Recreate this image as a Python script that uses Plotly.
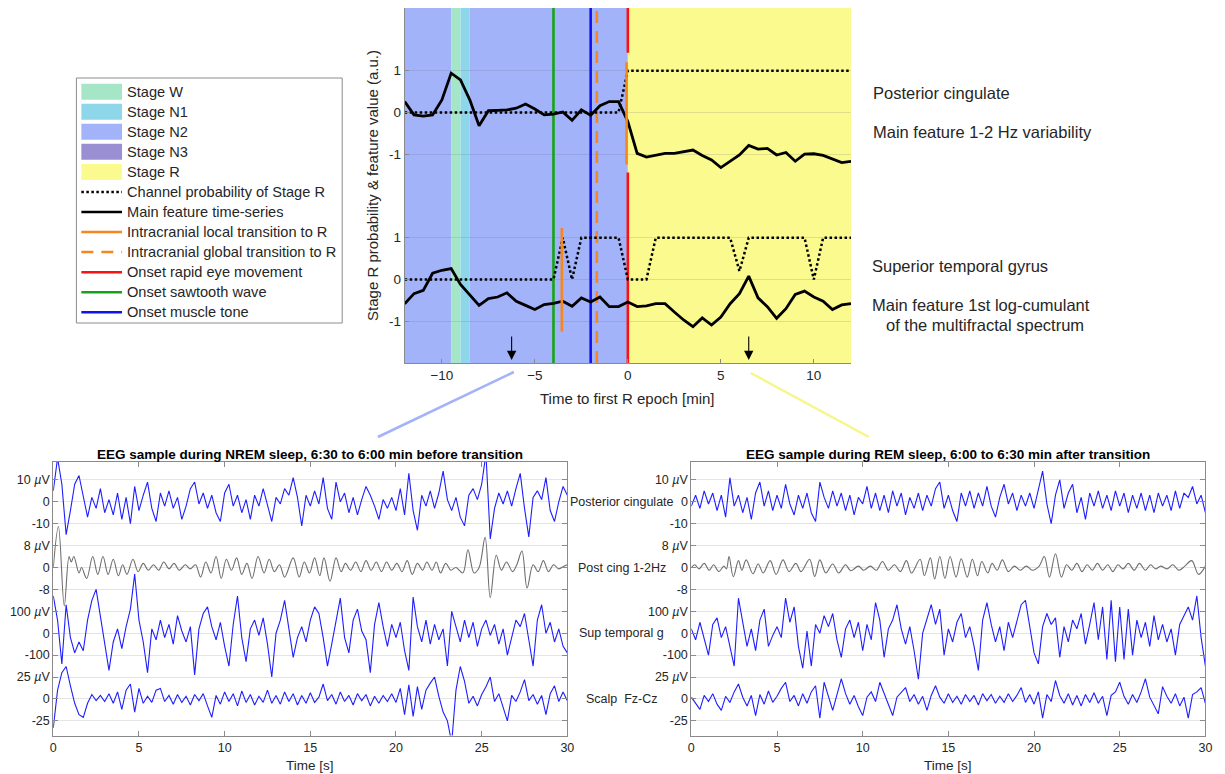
import numpy as np
import plotly.graph_objects as go

W, H = 1225, 774
def px(x): return x / W
def py(y): return 1 - y / H

FONT = "Liberation Sans, Arial, sans-serif"
TXT = "#262626"

# ---------------- top panel data ----------------
epoch_min = np.arange(-12, 12.25, 0.5)          # 30-s epochs, minutes to first R epoch

pc_feature = [0.26, -0.06, -0.09, -0.06, 0.30, 0.94, 0.78, 0.30, -0.32, 0.04,
              0.05, 0.06, 0.10, 0.20, 0.08, -0.06, -0.04, 0.01, -0.19, 0.06,
              -0.07, 0.16, 0.26, 0.26, -0.22, -0.98, -1.07, -1.02, -0.98, -0.98,
              -0.94, -0.90, -1.03, -1.14, -1.32, -1.16, -1.02, -0.79, -0.88, -0.86,
              -1.02, -0.96, -1.17, -1.00, -0.99, -1.03, -1.11, -1.20, -1.17]
pc_prob = [0] * 24 + [1] * 25

stg_feature = [-0.58, -0.34, -0.26, 0.15, 0.22, 0.26, -0.12, -0.36, -0.62, -0.46,
               -0.42, -0.32, -0.52, -0.62, -0.72, -0.60, -0.57, -0.52, -0.64, -0.44,
               -0.54, -0.42, -0.65, -0.65, -0.54, -0.65, -0.63, -0.58, -0.58, -0.78,
               -0.97, -1.13, -0.92, -1.09, -0.90, -0.58, -0.34, 0.08, -0.44, -0.65,
               -0.93, -0.70, -0.36, -0.28, -0.42, -0.52, -0.72, -0.61, -0.58]
stg_prob = ([0] * 17 + [1, 0] + [1] * 5 + [0] * 3 + [1] * 9 + [0.2] + [1] * 7 + [0] + [1] * 4)

channel_offsets_top = {"pc": 4, "stg": 0}

# hypnogram segments (minutes)
seg_start = [-12, -9.5, -9.0, -8.5, 0]
seg_end = [-9.5, -9.0, -8.5, 0, 12]
seg_stage = ["Stage N2", "Stage W", "Stage N1", "Stage N2", "Stage R"]
stage_names = ["Stage W", "Stage N1", "Stage N2", "Stage N3", "Stage R"]
stage_colors = ["#a6e6c8", "#8ed6ea", "#a2b3f9", "#9a8fd2", "#fafa8e"]

# events (minutes)
onset_rem = 0.0
onset_sawtooth = -4.0
onset_muscle = -2.0
global_transition = -1.67
local_transition_pc = -0.07
local_transition_stg = -3.55
sample_arrows = [-6.25, 6.5]

# ---------------- EEG samples (µV) ----------------
nrem_pc = [5, 20, 8, -15, -4, 8, 12, 3, -7, 2, -3, 6, -5, 1, -6, 4, -8, 2, -10, 7,
           -4, 3, 9, -3, -9, 4, -2, 5, -3, 2, -8, -2, 6, 9, -1, 4, -3, 3, -5, -9,
           4, 8, -2, 3, -5, 1, -8, 3, -2, 6, -1, -9, 2, -1, 6, 3, 11, 2, -11, 3,
           -2, 5, -1, 11, -3, -8, 9, 0, 4, -5, 2, -6, 1, 7, 3, -2, -8, 1, -3, 2,
           -4, 6, -6, 13, -4, -13, 3, -2, 5, -3, 4, 14, 1, -4, 2, -7, -11, 3, 6, 1,
           8, 22, -17, -3, 4, -1, 5, -2, 6, 13, -3, -16, 2, 5, 1, 11, -4, -9, 0, 7, 3]
nrem_pc_12hz = [(0, 0), (0.3, 15), (0.64, -14), (0.92, 4), (1.05, 2), (1.2, 4), (1.5, -2), (1.65, 0),
                (1.95, -4), (2.3, 4), (2.6, -2.5), (2.9, 4), (3.2, -2.5), (3.5, 3), (3.8, -3), (4.05, 1),
                (4.3, -2.5), (4.65, 3), (4.95, -1.5), (5.25, 1.5), (5.55, -1), (5.85, 1), (6.15, -1),
                (6.45, 2), (6.75, -0.5), (7.05, 1.5), (7.35, -1), (7.7, 1), (8.0, -0.5), (8.3, 1),
                (8.6, -3.5), (8.9, 2), (9.2, -2), (9.5, 4), (9.8, -4), (10.1, 3), (10.4, -1), (10.7, 3.5),
                (11.0, -2.5), (11.3, 1.5), (11.6, -4), (11.95, 4), (12.3, -2), (12.6, 3), (12.9, -1.5),
                (13.2, 1), (13.5, -3.5), (14.0, 3.5), (14.35, -3.5), (14.65, 2), (14.95, -2), (15.25, 3.5),
                (15.55, -3), (15.8, 3.5), (16.15, -5), (16.5, 3.5), (16.8, -1.5), (17.05, 1.5), (17.35, -1),
                (17.65, 2), (17.95, -1.5), (18.25, 2.5), (18.55, -1), (18.85, 2), (19.15, -1.5), (19.45, 2),
                (19.75, -1), (20.05, 1.5), (20.35, -1.5), (20.65, 2.5), (20.95, -2.5), (21.25, 1.5),
                (21.55, -1), (21.8, 2), (22.1, -1), (22.35, 2), (22.6, -2), (22.9, 1.5), (23.2, -1),
                (23.5, 0), (23.9, -2), (24.2, 6.5), (24.55, -2), (24.85, 0), (25.2, 11), (25.5, -11),
                (25.85, 4.5), (26.15, -1), (26.45, 2), (26.8, -1.5), (27.05, 1), (27.35, 6), (27.65, -7.5),
                (28.0, 1), (28.3, -1.5), (28.6, 2.5), (28.9, -1.5), (29.2, 1), (29.5, -0.5), (29.8, 0.5), (30.0, 1)]
nrem_stg = [170, 60, -140, 130, -20, -90, -40, -80, 60, 150, 200, 80, -60, -170, -40, 20, -70, 30, 110, 270,
            60, -40, -180, 20, -30, 60, -20, 40, -50, 80, 10, -40, 30, -190, 20, 90, 120, 30, -30, 50,
            -60, -150, 40, 170, -20, -130, 20, 60, -10, 70, -50, -200, 0, 60, 150, 20, -110, -20, 30, -40,
            60, 120, 90, -20, -150, -50, 60, 160, -20, -90, 60, 110, 10, -30, -180, 40, 140, 30, -60, 40,
            -20, 50, -80, -170, 165, 30, -40, 60, -50, 40, -30, 20, -150, 100, 30, -40, 60, -20, 50, -60,
            20, 60, -10, 40, -50, 20, -100, -20, 60, 30, 90, -30, -150, 60, 130, 0, 50, -40, 20, -60, -90]
nrem_scalp = [-33, 10, 30, 37, 15, -5, -18, -21, -5, 5, -2, 4, -3, 6, -5, 8, -12, 10, 17, -15,
              12, -5, 3, -4, 10, 12, -3, 4, -6, 5, -4, 3, -7, 5, -2, 6, -8, -21, 4, -6,
              8, -3, 6, -8, 9, -4, 5, -7, 3, -4, 10, -5, 4, -6, 8, -3, 6, -7, 4, -5,
              7, -4, 2, 17, -2, 5, -6, 8, -3, 4, -7, 6, -2, 5, -8, 3, -5, 4, -3, 6,
              -4, 12, -18, 16, -20, 14, -12, 10, 18, 25, 3, -15, -25, -50, 10, 37, 20, -5, 3, -8,
              5, 14, 25, -3, 6, -10, -25, 4, -3, 8, 22, -2, 5, -6, 4, -18, 6, 15, -3, 8, -2]

rem_pc = [-2, 3, -3, 5, -1, 4, -4, 3, -7, 11, -2, 3, -5, 2, -8, 4, 9, -2, 5, -4,
          3, -3, 8, -1, -6, 3, -3, 4, -5, -9, 9, 2, -3, 5, -2, 4, -4, 3, -6, 2,
          -1, 7, -3, 4, -4, 3, -5, 5, -2, 4, -6, 2, -3, 4, -4, 3, -2, 6, 9, -3,
          3, -4, -9, 4, -2, 5, -3, 4, -2, 7, -2, -7, 2, 8, -1, 4, -4, 3, -2, 4,
          -3, 5, 14, -1, -10, 3, 10, -3, 4, 8, -5, 2, -8, 4, -2, 5, -3, 3, -4, 5,
          -2, 4, -5, 3, -3, 4, -4, 3, -5, 4, -2, 3, -4, 5, -3, 4, 2, 7, -1, 3, -5]
rem_pc_12hz = [(0, 0), (0.2, 1), (0.45, -0.5), (0.75, 1.5), (1.05, -1), (1.3, 1), (1.6, -1.5), (1.9, 0.5),
               (2.05, -0.5), (2.2, 4), (2.45, -3.4), (2.75, 2.5), (2.95, -1), (3.2, 2.8), (3.6, -2.3),
               (3.9, 1.3), (4.2, -2), (4.6, 2.5), (4.95, -2.5), (5.35, 2.8), (5.7, -1.5), (6.1, 1.5),
               (6.4, -1.5), (6.9, 3), (7.2, -3.3), (7.5, 2.8), (7.85, -2), (8.25, 1.3), (8.6, -2), (9.0, 1),
               (9.3, -1.2), (9.75, 0.5), (10.05, -1), (10.45, 0.5), (10.8, -1), (11.15, 2.2), (11.5, -1),
               (11.85, 1), (12.2, -1.5), (12.55, 2.5), (12.85, -2), (13.35, 3), (13.6, -3), (13.95, 3.5),
               (14.2, -4.2), (14.5, 4), (14.8, -4), (15.1, 4), (15.45, -3.5), (15.75, 3.2), (16.1, -3.5),
               (16.4, 3), (16.7, -3), (16.95, 2.2), (17.3, -2), (17.55, 1.5), (17.85, -1), (18.15, 2.8),
               (18.5, -1.5), (18.85, 0.5), (19.2, -1), (19.55, 0.5), (19.9, -1), (20.3, 0.5), (20.6, 4),
               (20.9, -3.5), (21.25, 5), (21.6, -3.5), (21.9, 1), (22.2, -1), (22.5, 1.5), (22.8, -1.5),
               (23.1, 1), (23.4, -1), (23.7, 1.5), (24.0, -1), (24.3, 1), (24.6, -1.5), (24.9, 1),
               (25.2, -0.5), (25.5, 1.5), (25.85, -1), (26.15, 1.5), (26.5, -1), (26.8, 1), (27.1, -0.5),
               (27.4, 0.5), (27.75, -0.5), (28.1, 1), (28.45, -1), (28.8, 0.5), (29.2, 2.5), (29.6, -2.5),
               (30.0, 0.5)]
rem_stg = [20, -30, 50, -20, -100, 40, 70, -20, 30, -60, -150, 160, 40, -60, 20, -80, 60, 110, -60, -10,
           30, -20, 160, 50, 120, -60, -160, 10, -150, 40, 0, 80, 30, 90, -30, -110, 20, 60, -20, 50,
           -80, 40, -30, 140, 60, -110, 20, 60, 130, 20, -50, 30, -80, -210, 0, 60, 130, 40, 110, -100,
           20, -40, 50, 90, -20, 30, -60, -170, 60, 140, 40, -40, 30, -80, 50, -20, 60, 130, 150, 20,
           -90, -140, 30, 90, 40, 70, -110, 30, -40, 60, 20, 90, -50, 40, 140, -30, 120, -120, 150, -130,
           120, -120, 110, -100, 60, -20, 50, -60, 80, -30, 40, -40, 20, -100, 40, 80, 120, 60, 170, -20, -150]
rem_scalp = [2, -5, -12, 4, -3, 6, -6, -13, 3, -4, 8, 17, 2, -8, 4, -19, 5, -6, 9, -4,
             3, 12, 19, -3, 4, -8, 6, -5, 8, 15, -22, 19, 2, -13, 5, 23, 6, -6, 4, -9,
             -19, 2, 8, -3, 19, 6, -5, -19, 2, 8, 13, -3, 5, -6, 3, -13, 4, 15, 2, -5,
             6, -4, 3, -6, 5, -3, 4, -7, 6, -2, 5, -5, 3, -4, 6, -3, 4, 13, -4, 5,
             -6, 8, -22, 5, -3, 21, 4, -5, 6, -7, 4, -8, 5, -4, 7, -5, 3, -19, 4, 8,
             19, 3, -6, 5, -4, 8, 23, 2, -7, -17, 14, 3, -5, 6, -8, 2, -22, 5, 8, 13, -5]

eeg_offsets = [9, 6, 3, 0]          # stacking position of each channel
eeg_scales = [10, 8, 100, 25]       # µV per stacking unit
eeg_names = ["Posterior cingulate", "Post cing 1-2Hz", "Sup temporal g", "Scalp  Fz-Cz"]
eeg_tick_vals = [10, 9, 8, 7, 6, 5, 4, 3, 2, 1, 0, -1]
eeg_tick_text = ["10 <i>µ</i>V", "0", "-10", "8 <i>µ</i>V", "0", "-8",
                 "100 <i>µ</i>V", "0", "-100", "25 <i>µ</i>V", "0", "-25"]

legend_labels = ["Stage W", "Stage N1", "Stage N2", "Stage N3", "Stage R",
                 "Channel probability of Stage R", "Main feature time-series",
                 "Intracranial local transition to R", "Intracranial global transition to R",
                 "Onset rapid eye movement", "Onset sawtooth wave", "Onset muscle tone"]

# ---------------- styles ----------------
C_GREEN = "#16a316"
C_BLUE = "#1212f0"
C_RED = "#ff1010"
C_ORANGE = "#f7861e"
DOT = "2.5px,2.5px"
DASH = "12px,8px"
TOP_YR = [-2.0, 6.5]

fig = go.Figure()

# stage bands
stage_color = dict(zip(stage_names, stage_colors))
for s, e, st in zip(seg_start, seg_end, seg_stage):
    fig.add_shape(type="rect", xref="x", yref="y", x0=s, x1=e, y0=TOP_YR[0], y1=TOP_YR[1],
                  fillcolor=stage_color[st], line_width=0, layer="below")

def top_line(x, y, color, width, dash="solid"):
    fig.add_trace(go.Scatter(x=x, y=y, mode="lines", xaxis="x", yaxis="y",
                             line=dict(color=color, width=width, dash=dash),
                             showlegend=False, hoverinfo="skip"))

# event lines
top_line([onset_sawtooth] * 2, TOP_YR, C_GREEN, 2.6)
top_line([onset_muscle] * 2, TOP_YR, C_BLUE, 2.6)
top_line([global_transition] * 2, TOP_YR, C_ORANGE, 2.6, DASH)
top_line([onset_rem] * 4 + [onset_rem], [TOP_YR[0], 2.56, None, 5.43, TOP_YR[1]], C_RED, 2.6)

# channel probabilities and features
off_pc, off_stg = channel_offsets_top["pc"], channel_offsets_top["stg"]
top_line(epoch_min, [v + off_pc for v in pc_prob], "black", 2.5, DOT)
top_line(epoch_min, [v + off_stg for v in stg_prob], "black", 2.5, DOT)
top_line(epoch_min, [v + off_pc for v in pc_feature], "black", 2.8)
top_line(epoch_min, [v + off_stg for v in stg_feature], "black", 2.8)

# local transitions
top_line([local_transition_pc] * 2, [off_pc - 1.25, off_pc + 1.2], C_ORANGE, 2.6)
top_line([local_transition_stg] * 2, [off_stg - 1.25, off_stg + 1.23], C_ORANGE, 2.6)

# arrows marking the EEG sample windows
for xa in sample_arrows:
    fig.add_annotation(x=xa, y=-1.93, ax=xa, ay=-1.33, xref="x", yref="y", axref="x", ayref="y",
                       text="", showarrow=True, arrowhead=2, arrowsize=1.7, arrowwidth=1.1,
                       arrowcolor="black")

# connector lines to the EEG panels
fig.add_shape(type="line", xref="paper", yref="paper", x0=px(515), y0=py(372), x1=px(378), y1=py(437),
              line=dict(color="#a2b3f9", width=2.5))
fig.add_shape(type="line", xref="paper", yref="paper", x0=px(754), y0=py(373), x1=px(873), y1=py(437),
              line=dict(color="#f6f68a", width=2.5))

# ---------------- EEG panels ----------------
def eeg_trace(vals, offset, scale, xa, ya, color, width, pairs=False):
    if pairs:
        t = [p[0] for p in vals]
        v = [p[1] for p in vals]
        shape = "spline"
    else:
        t = np.linspace(0, 30, len(vals))
        v = vals
        shape = "linear"
    fig.add_trace(go.Scatter(x=t, y=[offset + a / scale for a in v], mode="lines",
                             xaxis=xa, yaxis=ya, line=dict(color=color, width=width, shape=shape),
                             showlegend=False, hoverinfo="skip"))

BLUE_EEG = "rgb(30,30,255)"
GRAY_EEG = "#6e6e6e"
for xa, ya, data in [("x2", "y2", [nrem_pc, nrem_pc_12hz, nrem_stg, nrem_scalp]),
                     ("x3", "y3", [rem_pc, rem_pc_12hz, rem_stg, rem_scalp])]:
    for i, d in enumerate(data):
        if i == 1:
            eeg_trace(d, eeg_offsets[i], eeg_scales[i], xa, ya, GRAY_EEG, 1.1, pairs=True)
        else:
            eeg_trace(d, eeg_offsets[i], eeg_scales[i], xa, ya, BLUE_EEG, 1.1)

# channel names for the right panel
for name, off in zip(eeg_names, eeg_offsets):
    fig.add_annotation(x=px(624), y=off, xref="paper", yref="y3", text=name, showarrow=False,
                       xanchor="center", yanchor="middle", font=dict(size=12.5, color=TXT))

# ---------------- legend (drawn) ----------------
fig.add_shape(type="rect", xref="paper", yref="paper", x0=px(74), x1=px(342), y0=py(323), y1=py(78),
              line=dict(color="#8c8c8c", width=1), fillcolor="white", layer="above")
leg_styles = [("patch", c, None) for c in stage_colors] + [
    ("line", "black", DOT), ("line", "black", "solid"), ("line", C_ORANGE, "solid"),
    ("line", C_ORANGE, DASH), ("line", C_RED, "solid"), ("line", C_GREEN, "solid"),
    ("line", C_BLUE, "solid")]
for i, (lab, (kind, col, dash)) in enumerate(zip(legend_labels, leg_styles)):
    yc = 91.7 + 20.05 * i
    if kind == "patch":
        fig.add_shape(type="rect", xref="paper", yref="paper", x0=px(79), x1=px(120),
                      y0=py(yc + 8), y1=py(yc - 8), fillcolor=col, line_width=0, layer="above")
    else:
        fig.add_shape(type="line", xref="paper", yref="paper", x0=px(79), x1=px(120),
                      y0=py(yc), y1=py(yc), line=dict(color=col, width=2.5, dash=dash), layer="above")
    fig.add_annotation(x=px(123), y=py(yc), xref="paper", yref="paper", text=lab, showarrow=False,
                       xanchor="left", yanchor="middle", font=dict(size=14.6, color=TXT))

# ---------------- text annotations ----------------
def note(x, y, text, size, anchor="left", bold=False, angle=0):
    fig.add_annotation(x=px(x), y=py(y), xref="paper", yref="paper",
                       text=f"<b>{text}</b>" if bold else text, showarrow=False,
                       xanchor=anchor, yanchor="middle", textangle=angle,
                       font=dict(size=size, color="black" if bold else TXT))

note(875, 93, "Posterior cingulate", 16.5)
note(875, 132, "Main feature 1-2 Hz variability", 16.5)
note(874, 266, "Superior temporal gyrus", 16.5)
note(874, 305, "Main feature 1st log-cumulant", 16.5)
note(1092, 325, "of the multifractal spectrum", 16.5, anchor="right")
note(372, 185, "Stage R probability & feature value (a.u.)", 15, anchor="center", angle=-90)
note(630, 398, "Time to first R epoch [min]", 15, anchor="center")
note(310, 454, "EEG sample during NREM sleep, 6:30 to 6:00 min before transition", 13.5, "center", True)
note(953, 454, "EEG sample during REM sleep, 6:00 to 6:30 min after transition", 13.5, "center", True)
note(310, 765, "Time [s]", 13.5, anchor="center")
note(953, 765, "Time [s]", 13.5, anchor="center")

# ---------------- axes ----------------
AX = "#8a8a8a"
top_x = dict(domain=[px(405), px(855)], range=[-12, 12], anchor="y", tickvals=[-10, -5, 0, 5, 10],
             ticks="inside", ticklen=4, tickcolor=AX, showline=True, linecolor=AX, linewidth=1,
             showgrid=False, zeroline=False, tickfont=dict(size=13.5, color=TXT))
top_y = dict(domain=[py(363), py(8)], range=TOP_YR, anchor="x", tickvals=[-1, 0, 1, 3, 4, 5],
             ticktext=["-1", "0", "1", "-1", "0", "1"], ticks="inside", ticklen=4, tickcolor=AX,
             showline=True, linecolor=AX, linewidth=1, showgrid=True,
             gridcolor="rgba(90,90,120,0.16)", zeroline=False, tickfont=dict(size=13.5, color=TXT))

def eeg_x(dom, anchor):
    return dict(domain=dom, range=[0, 30], anchor=anchor, tickvals=[0, 5, 10, 15, 20, 25, 30],
                ticks="inside", ticklen=5, tickcolor=AX, showline=True, mirror="ticks",
                linecolor=AX, linewidth=1, showgrid=False, zeroline=False,
                tickfont=dict(size=12.5, color=TXT))

def eeg_y(anchor):
    return dict(domain=[py(735.5), py(461.7)], range=[-1.67, 10.83], anchor=anchor,
                tickvals=eeg_tick_vals, ticktext=eeg_tick_text, ticks="inside", ticklen=5,
                tickcolor=AX, showline=True, mirror="ticks", linecolor=AX, linewidth=1,
                showgrid=True, gridcolor="#e4e4e4", zeroline=False,
                tickfont=dict(size=12.5, color=TXT))

fig.update_layout(
    width=W, height=H, margin=dict(l=0, r=0, t=0, b=0),
    plot_bgcolor="white", paper_bgcolor="white", showlegend=False,
    font=dict(family=FONT, color=TXT),
    xaxis=top_x, yaxis=top_y,
    xaxis2=eeg_x([px(50.7), px(569)], "y2"), yaxis2=eeg_y("x2"),
    xaxis3=eeg_x([px(694), px(1212.3)], "y3"), yaxis3=eeg_y("x3"),
)

fig.write_html("out.html")
